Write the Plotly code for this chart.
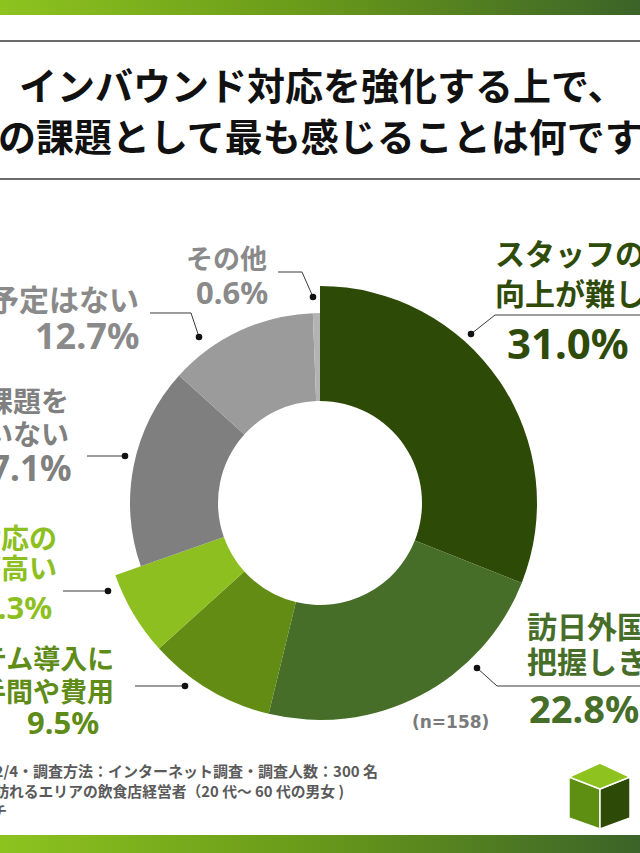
import plotly.graph_objects as go

W, H = 640, 853

# ---------------- data ----------------
categories = [
    "スタッフの語学力\n向上が難しい",
    "訪日外国人のニーズを\n把握しきれない",
    "システム導入に\nかかる手間や費用",
    "多言語対応の\nコストが高い",
    "特に課題を\n感じていない",
    "対応する予定はない",
    "その他",
]
values = [31.0, 22.8, 9.5, 6.3, 17.1, 12.7, 0.6]
is_green = [True, True, True, True, False, False, False]
n_label = "(n=158)"
title_lines = ["インバウンド対応を強化する上で、", "現在の課題として最も感じることは何ですか？"]
notes = [
    "・調査期間：2024/12/2～2024/12/4・調査方法：インターネット調査・調査人数：300 名",
    "・調査対象：訪日外国人が多く訪れるエリアの飲食店経営者（20 代～ 60 代の男女 )",
    "・モニター提供元：ゼネラルリサーチ",
]

# ---------------- styles ----------------
slice_colors = ["#2d4a06", "#466e28", "#628c14", "#8cbf1f", "#7f7f7f", "#9b9b9b", "#b3b3b3"]
text_colors = ["#2f4b0a", "#466e28", "#5f8c18", "#8cbf1f", "#808080", "#8a8a8a", "#8a8a8a"]
JP = "Noto Sans CJK JP"
NUM = "Noto Sans"

CX, CY = 320, 503
R_IN, R_GREEN, R_GRAY = 102, 217, 190


def px(x):
    return x / W


def py(y):
    return 1 - y / H


def domain(r):
    return dict(x=[px(CX - r), px(CX + r)], y=[py(CY + r), py(CY - r)])


fig = go.Figure()
clear = "rgba(0,0,0,0)"
fig.add_trace(go.Pie(
    values=values, labels=[c.replace("\n", "") for c in categories],
    sort=False, direction="clockwise", rotation=0,
    hole=R_IN / R_GREEN, domain=domain(R_GREEN),
    marker=dict(colors=[c if g else clear for c, g in zip(slice_colors, is_green)],
                line=dict(width=0)),
    textinfo="none", hoverinfo="label+percent", showlegend=False,
))
fig.add_trace(go.Pie(
    values=values, labels=[c.replace("\n", "") for c in categories],
    sort=False, direction="clockwise", rotation=0,
    hole=R_IN / R_GRAY, domain=domain(R_GRAY),
    marker=dict(colors=[clear if g else c for c, g in zip(slice_colors, is_green)],
                line=dict(width=0)),
    textinfo="none", hoverinfo="label+percent", showlegend=False,
))

shapes = []


def grad_color(t):
    stops = [(0.0, (141, 195, 31)), (0.5, (104, 152, 26)), (1.0, (60, 100, 40))]
    for (t0, c0), (t1, c1) in zip(stops[:-1], stops[1:]):
        if t <= t1:
            f = (t - t0) / (t1 - t0)
            return "rgb(%d,%d,%d)" % tuple(round(a + (b - a) * f) for a, b in zip(c0, c1))
    return "rgb(60,100,40)"


N = 80
for y0, y1 in [(0, 15), (835, 853)]:
    for i in range(N):
        x0 = W * i / N
        x1 = W * (i + 1) / N + 0.6
        shapes.append(dict(type="rect", xref="paper", yref="paper",
                           x0=px(x0), x1=px(x1), y0=py(y1), y1=py(y0),
                           line=dict(width=0), fillcolor=grad_color(i / (N - 1)), layer="above"))

# horizontal rules around title
for yy in (41, 179):
    shapes.append(dict(type="line", xref="paper", yref="paper", x0=0, x1=1, y0=py(yy), y1=py(yy),
                       line=dict(color="#6b6b6b", width=2)))


def path(points):
    s = "M " + " L ".join("%f,%f" % (px(x), py(y)) for x, y in points)
    return s


# leader lines (slice order)
leaders = [
    [(471, 334), (495, 315), (645, 315)],
    [(477, 668), (497, 686), (645, 686)],
    [(185, 686), (135, 686)],
    [(108, 591), (63, 591)],
    [(125, 456), (87, 456)],
    [(199, 337), (191, 313), (150, 313)],
    [(313, 297), (302, 272), (278, 272)],
]
for pts in leaders:
    shapes.append(dict(type="path", xref="paper", yref="paper", path=path(pts),
                       line=dict(color="#3a3a3a", width=1)))
    x, y = pts[0]
    r = 3.3
    shapes.append(dict(type="circle", xref="paper", yref="paper",
                       x0=px(x - r), x1=px(x + r), y0=py(y + r), y1=py(y - r),
                       fillcolor="#111111", line=dict(width=0)))

# cube icon
top = [(600, 763), (630, 777), (600, 789), (569, 777)]
left = [(569, 777), (600, 789), (600, 829), (569, 818)]
right = [(600, 789), (630, 777), (630, 818), (600, 829)]
for pts, col in [(left, "#5e8f12"), (right, "#2d4a06"), (top, "#8dc21f")]:
    shapes.append(dict(type="path", xref="paper", yref="paper", path=path(pts) + " Z",
                       fillcolor=col, line=dict(color="white", width=1.5)))

fig.update_layout(shapes=shapes)


def ann(text, x, y, size, color, xanchor="left", family=JP, weight=700):
    fig.add_annotation(x=px(x), y=py(y), xref="paper", yref="paper", text=text,
                       showarrow=False, xanchor=xanchor, yanchor="middle",
                       font=dict(family=family, size=size, color=color, weight=weight))


# title
ann(title_lines[0], 17, 83, 38, "#111111", "left")
ann(title_lines[1], -80, 134, 38, "#111111", "left")

# slice labels: (anchor, x_text, line ys, text size, x_pct, y_pct, pct size)
label_layout = [
    ("left", 493, [252, 292], 30, 505, 342, 42),
    ("left", 525, [625, 660], 30, 527, 708, 38),
    ("right", 116, [657, 690], 27, 101, 722, 31),
    ("right", 59, [537, 567], 28, 54, 607, 31),
    ("right", 71, [400, 433], 28, 73, 468, 35),
    ("right", 141, [298], 30, 141, 335, 36),
    ("center", 226, [257], 27, 232, 292, 31),
]
for cat, val, col, (anc, xt, ys, ts, xp, yp, ps) in zip(categories, values, text_colors, label_layout):
    for line, yy in zip(cat.split("\n"), ys):
        ann(line, xt, yy, ts, col, anc)
    ann("%.1f%%" % val, xp, yp, ps, col, anc, family=NUM)

ann(n_label, 450, 722, 17, "#7a7a7a", "center", family="DejaVu Sans")

# footnotes
ann(notes[0], 380, 770, 15, "#5a5a5a", "right")
ann(notes[1], 346, 790, 14.8, "#5a5a5a", "right")
ann(notes[2], 9, 810, 15, "#5a5a5a", "right")

fig.update_layout(width=W, height=H, margin=dict(l=0, r=0, t=0, b=0),
                  paper_bgcolor="white", plot_bgcolor="white", showlegend=False)
fig.write_html("out.html", config={"displayModeBar": False},
               post_script="document.body.style.margin='0';document.body.style.overflow='hidden';")
